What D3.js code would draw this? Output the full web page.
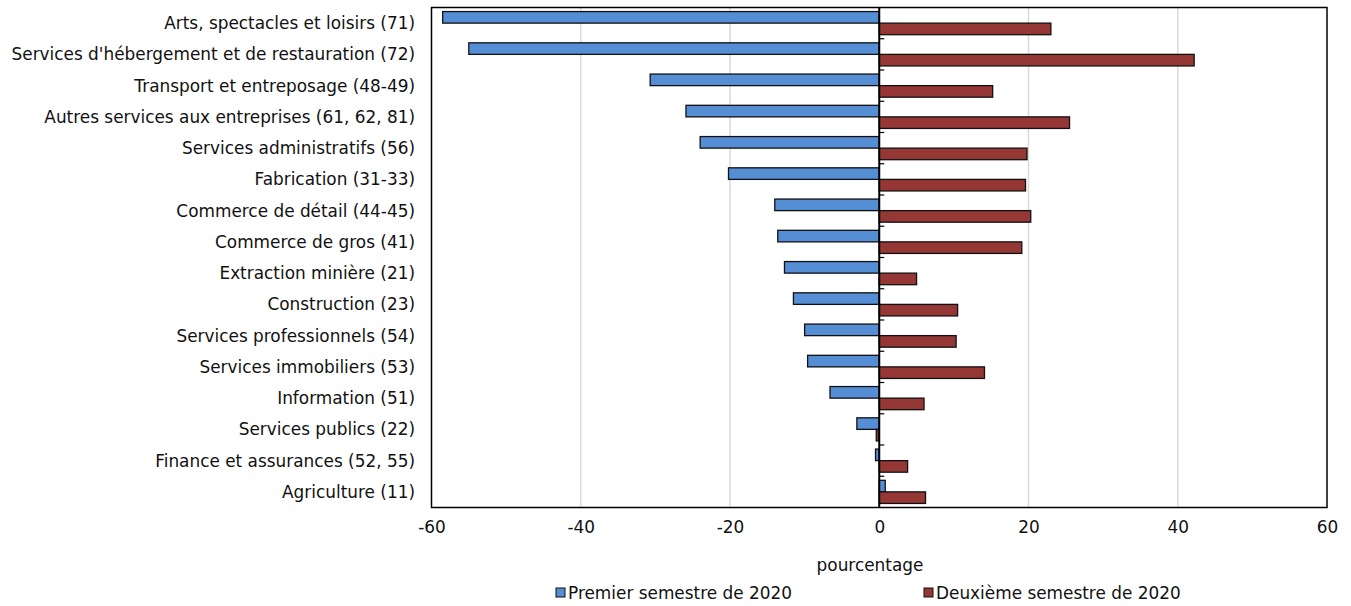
<!DOCTYPE html>
<html>
<head>
<meta charset="utf-8">
<script src="https://cdn.jsdelivr.net/npm/d3@7"></script>
<style>
  html, body { margin: 0; padding: 0; background: #fff; }
  svg { display: block; font-family: "DejaVu Sans", Verdana, sans-serif; }
</style>
</head>
<body>
<svg id="chart" width="1351" height="606"></svg>
<script>
// Industries (NAICS codes in parentheses)
const categories = [
  "Arts, spectacles et loisirs (71)",
  "Services d'hébergement et de restauration (72)",
  "Transport et entreposage (48-49)",
  "Autres services aux entreprises (61, 62, 81)",
  "Services administratifs (56)",
  "Fabrication (31-33)",
  "Commerce de détail (44-45)",
  "Commerce de gros (41)",
  "Extraction minière (21)",
  "Construction (23)",
  "Services professionnels (54)",
  "Services immobiliers (53)",
  "Information (51)",
  "Services publics (22)",
  "Finance et assurances (52, 55)",
  "Agriculture (11)"
];

// Percentage change, first half of 2020
const premierSemestre = [-58.5, -55.0, -30.7, -25.9, -24.0, -20.2, -14.0, -13.6, -12.7, -11.5, -10.0, -9.6, -6.6, -3.0, -0.5, 0.8];
// Percentage change, second half of 2020
const deuxiemeSemestre = [23.0, 42.2, 15.2, 25.5, 19.8, 19.6, 20.3, 19.1, 5.0, 10.5, 10.3, 14.1, 6.0, -0.4, 3.8, 6.2];

const seriesNames = ["Premier semestre de 2020", "Deuxième semestre de 2020"];
const seriesColors = ["#558ED5", "#953735"];
const xTicks = [-60, -40, -20, 0, 20, 40, 60];
const axisTitle = "pourcentage";

const FS = 16.9;
const svg = d3.select("#chart");
const margin = { left: 431.5, right: 24, top: 7.5, bottom: 98.5 };
const W = 1351, H = 606;
const plotW = W - margin.left - margin.right;
const plotH = H - margin.top - margin.bottom;

const x = d3.scaleLinear().domain([-60, 60]).range([margin.left, margin.left + plotW]);
const y = d3.scaleBand().domain(categories).range([margin.top, margin.top + plotH])
  .paddingInner(0.26).paddingOuter(0.13);
const sub = d3.scaleBand().domain([0, 1]).range([0, y.bandwidth()]);

// vertical gridlines
svg.append("g")
  .selectAll("line")
  .data(xTicks.filter(t => t !== 0 && t !== -60 && t !== 60))
  .join("line")
  .attr("x1", d => x(d)).attr("x2", d => x(d))
  .attr("y1", margin.top).attr("y2", margin.top + plotH)
  .attr("stroke", "#d9d9d9").attr("stroke-width", 1.5);

// bars
const series = [premierSemestre, deuxiemeSemestre];
series.forEach((vals, s) => {
  svg.append("g")
    .selectAll("rect")
    .data(categories.map((c, i) => ({ c, v: vals[i] })))
    .join("rect")
    .attr("x", d => Math.min(x(0), x(d.v)))
    .attr("y", d => y(d.c) + sub(s))
    .attr("width", d => Math.abs(x(d.v) - x(0)))
    .attr("height", sub.bandwidth())
    .attr("fill", seriesColors[s])
    .attr("stroke", "#111")
    .attr("stroke-width", 1.3);
});

// plot frame
svg.append("rect")
  .attr("x", margin.left).attr("y", margin.top)
  .attr("width", plotW).attr("height", plotH)
  .attr("fill", "none").attr("stroke", "#000").attr("stroke-width", 1.5);

// zero axis with category ticks
const boundaries = d3.range(1, categories.length).map(i => margin.top + i * plotH / categories.length);
svg.append("g")
  .selectAll("line")
  .data(boundaries)
  .join("line")
  .attr("x1", x(0)).attr("x2", x(0) + 5)
  .attr("y1", d => d).attr("y2", d => d)
  .attr("stroke", "#000").attr("stroke-width", 1.2);
svg.append("line")
  .attr("x1", x(0)).attr("x2", x(0))
  .attr("y1", margin.top).attr("y2", margin.top + plotH)
  .attr("stroke", "#000").attr("stroke-width", 2);

// category labels
svg.append("g")
  .selectAll("text")
  .data(categories)
  .join("text")
  .attr("x", 415)
  .attr("y", d => y(d) + y.bandwidth() / 2)
  .attr("dy", "0.35em")
  .attr("text-anchor", "end")
  .attr("font-size", FS)
  .attr("fill", "#111")
  .text(d => d);

// x tick labels
const xAxis = d3.axisBottom(x).tickValues(xTicks).tickSize(0).tickPadding(14);
const gx = svg.append("g").attr("transform", `translate(0,${margin.top + plotH})`).call(xAxis);
gx.select(".domain").remove();
gx.selectAll("text").attr("font-size", FS).attr("fill", "#111")
  .attr("font-family", "\"DejaVu Sans\", Verdana, sans-serif")
  .text(d => d < 0 ? "-" + Math.abs(d) : d);

// axis title
svg.append("text")
  .attr("x", 870).attr("y", 571)
  .attr("text-anchor", "middle")
  .attr("font-size", FS).attr("fill", "#111")
  .text(axisTitle);

// legend
const legendX = [556, 924];
const legend = svg.append("g");
seriesNames.forEach((name, i) => {
  legend.append("rect")
    .attr("x", legendX[i]).attr("y", 588)
    .attr("width", 9).attr("height", 9)
    .attr("fill", seriesColors[i]).attr("stroke", "#111").attr("stroke-width", 1);
  legend.append("text")
    .attr("x", legendX[i] + 12).attr("y", 599)
    .attr("font-size", FS).attr("fill", "#111")
    .text(name);
});
</script>
</body>
</html>
